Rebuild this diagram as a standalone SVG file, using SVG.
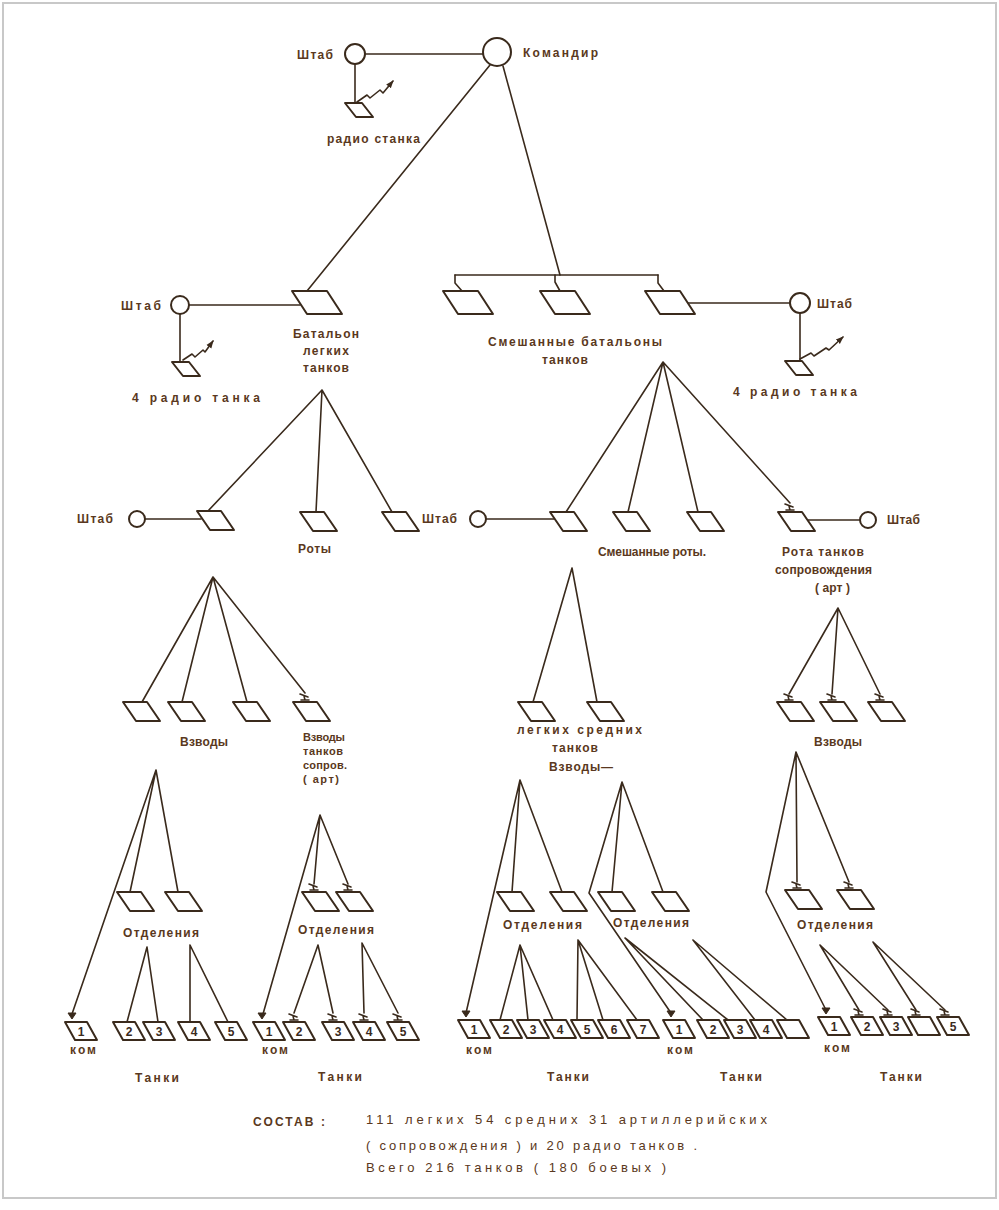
<svg xmlns="http://www.w3.org/2000/svg" width="999" height="1210" viewBox="0 0 999 1210">
<style>
.ln{fill:none;stroke:#3a2a1c;stroke-width:1.6;stroke-linecap:round;stroke-linejoin:round}
.nd{fill:#fff;stroke:#3a2a1c;stroke-width:2;stroke-linejoin:round}
.mk{fill:none;stroke:#3a2a1c;stroke-width:1.6;stroke-linecap:round}
.cm{fill:#3a2a1c;stroke:#3a2a1c;stroke-width:1}
text{font-family:"Liberation Sans","DejaVu Sans",sans-serif;font-weight:bold;font-size:12px;fill:#5a3820}
.m{text-anchor:middle}
.s{font-size:11px}
.b{font-weight:normal;font-size:13px}
.n{text-anchor:middle;font-size:12px;fill:#3a2a1c}
</style>
<defs>
<path id="pL" d="M0,0 H35 L50,23 H15 Z"/>
<path id="pM" d="M0,0 H24 L37,19 H13 Z"/>
<path id="pS" d="M0,0 H17 L28,14 H11 Z"/>
<path id="pT" d="M0,0 H22 L32,18 H10 Z"/>
<path id="mk" d="M-4,-1 H4 M0,-1 L-1,-5 M-5,-7 L3,-4"/>
<path id="cm" d="M-4,-8 H4 L0,-2 Z"/>
<marker id="ah" markerWidth="8" markerHeight="8" refX="7" refY="4" orient="auto" markerUnits="userSpaceOnUse"><path d="M0,1 L8,4 L0,7 Z" fill="#3a2a1c"/></marker>
</defs>
<rect x="0" y="0" width="999" height="1210" fill="#fff"/>
<rect x="3" y="3" width="993" height="1195" fill="none" stroke="#c8c8c8" stroke-width="2"/>

<g id="connectors" class="ln">
<path d="M365,54 H483"/>
<path d="M355,64 V103"/>
<path d="M490,65 L307,291"/>
<path d="M503,66 L560,275"/>
<path d="M455,275 H658"/>
<path d="M455,275 V283 L462,291"/>
<path d="M555,275 V282 L560,291"/>
<path d="M658,275 V283 L664,291"/>
<path d="M189,305 H300"/>
<path d="M180,314 V362"/>
<path d="M688,303 H790"/>
<path d="M800,313 V361"/>
<path d="M357,102 L367,95 L370,98 L380,90 L383,93 L393,81" marker-end="url(#ah)"/>
<path d="M183,360 L192,354 L195,357 L203,350 L205,352 L213,341" marker-end="url(#ah)"/>
<path d="M800,359 L811,353 L814,356 L826,348 L829,350 L843,337" marker-end="url(#ah)"/>
<path d="M322,390 L208,511 M322,390 L316,512 M322,390 L392,512"/>
<path d="M145,519 H201"/>
<path d="M663,362 L566,512 M663,362 L628,512 M663,362 L698,512 M663,362 L790,503"/>
<path d="M486,519 H554"/>
<path d="M808,520 H860"/>
<path d="M213,577 L142,702 M213,577 L182,702 M213,577 L247,702 M213,577 L305,693"/>
<path d="M572,568 L533,702 M572,568 L597,702"/>
<path d="M838,608 L789,694 M838,608 L832,694 M838,608 L880,694"/>
<path d="M156,770 L72,1014 M156,770 L130,892 M156,770 L178,892"/>
<path d="M147,947 L127,1022 M147,947 L158,1022 M190,945 L190,1022 M190,945 L228,1022"/>
<path d="M320,815 L263,1014 M320,815 L314,884 M320,815 L348,884"/>
<path d="M318,945 L294,1013 M318,945 L333,1013 M362,943 L364,1013 M362,943 L398,1013"/>
<path d="M520,780 L466,1013 M520,780 L512,892 M520,780 L562,892"/>
<path d="M622,782 L589,893 L671,1013 M622,782 L612,892 M622,782 L663,892"/>
<path d="M520,945 L500,1020 M520,945 L528,1020 M520,945 L553,1020"/>
<path d="M578,940 L577,1020 M578,940 L603,1020 M578,940 L637,1020"/>
<path d="M625,938 L703,1020 M625,938 L728,1020 M693,940 L755,1020 M693,940 L787,1020"/>
<path d="M796,752 L766,892 L826,1010 M796,752 L797,882 M796,752 L849,882"/>
<path d="M820,945 L859,1010 M820,945 L888,1010 M873,942 L916,1010 M873,942 L945,1010"/>
</g>

<g id="hq-shtab"><circle class="nd" cx="355" cy="54" r="10"/><text x="297" y="59" textLength="36">Штаб</text></g>
<g id="commander"><circle class="nd" cx="497" cy="52" r="14"/><text x="523" y="57" textLength="75">Командир</text></g>
<g id="hq-radio"><use href="#pS" class="nd" x="345" y="103"/><text x="327" y="143" textLength="93">радио станка</text></g>

<g id="bat-light"><use href="#pL" class="nd" x="292" y="291"/>
<text class="m" x="326" y="338" textLength="66">Батальон</text><text class="m" x="326" y="355" textLength="46">легких</text><text class="m" x="326" y="372" textLength="46">танков</text></g>
<g id="bat-light-shtab"><circle class="nd" cx="180" cy="305" r="9"/><text x="121" y="310" textLength="40">Штаб</text></g>
<g id="bat-light-radio"><use href="#pS" class="nd" x="172" y="362"/><text x="132" y="402" textLength="128">4 радио танка</text></g>

<g id="bat-mixed"><use href="#pL" class="nd" x="443" y="291"/><use href="#pL" class="nd" x="540" y="291"/><use href="#pL" class="nd" x="645" y="291"/>
<text x="488" y="346" textLength="174">Смешанные батальоны</text><text class="m" x="565" y="364" textLength="46">танков</text></g>
<g id="bat-mixed-shtab"><circle class="nd" cx="800" cy="303" r="10"/><text x="817" y="308" textLength="35">Штаб</text></g>
<g id="bat-mixed-radio"><use href="#pS" class="nd" x="785" y="361"/><text x="733" y="396" textLength="124">4 радио танка</text></g>

<g id="roty"><use href="#pM" class="nd" x="197" y="511"/><use href="#pM" class="nd" x="300" y="512"/><use href="#pM" class="nd" x="382" y="512"/><text x="298" y="553" textLength="33">Роты</text></g>
<g id="roty-shtab"><circle class="nd" cx="137" cy="519" r="8"/><text x="77" y="523" textLength="36">Штаб</text></g>

<g id="roty-mixed"><use href="#pM" class="nd" x="550" y="512"/><use href="#pM" class="nd" x="613" y="512"/><use href="#pM" class="nd" x="687" y="512"/><text x="598" y="556" textLength="108">Смешанные роты.</text></g>
<g id="roty-mixed-shtab"><circle class="nd" cx="478" cy="519" r="8"/><text x="422" y="523" textLength="35">Штаб</text></g>
<g id="rota-sopr"><use href="#pM" class="nd" x="778" y="512"/><use href="#mk" class="mk" x="790" y="511"/>
<text x="782" y="556" textLength="82">Рота танков</text><text x="775" y="574" textLength="97">сопровождения</text><text x="815" y="592" textLength="35">( арт )</text></g>
<g id="rota-sopr-shtab"><circle class="nd" cx="868" cy="520" r="8"/><text x="887" y="524" textLength="33">Штаб</text></g>

<g id="vzvody-light"><use href="#pM" class="nd" x="123" y="702"/><use href="#pM" class="nd" x="168" y="702"/><use href="#pM" class="nd" x="233" y="702"/><text x="180" y="746" textLength="48">Взводы</text></g>
<g id="vzvod-sopr-light"><use href="#pM" class="nd" x="293" y="702"/><use href="#mk" class="mk" x="305" y="701"/>
<text class="s" x="303" y="741" textLength="42">Взводы</text><text class="s" x="303" y="755" textLength="40">танков</text><text class="s" x="303" y="769" textLength="44">сопров.</text><text class="s" x="303" y="783" textLength="36">( арт)</text></g>
<g id="vzvody-mixed"><use href="#pM" class="nd" x="518" y="702"/><use href="#pM" class="nd" x="587" y="702"/>
<text x="517" y="734" textLength="125">легких средних</text><text x="552" y="752" textLength="46">танков</text><text x="549" y="771" textLength="64">Взводы—</text></g>
<g id="vzvody-sopr"><use href="#pM" class="nd" x="777" y="702"/><use href="#pM" class="nd" x="820" y="702"/><use href="#pM" class="nd" x="868" y="702"/>
<use href="#mk" class="mk" x="789" y="701"/><use href="#mk" class="mk" x="832" y="701"/><use href="#mk" class="mk" x="880" y="701"/><text x="814" y="746" textLength="48">Взводы</text></g>

<g id="otd-1"><use href="#pM" class="nd" x="117" y="892"/><use href="#pM" class="nd" x="165" y="892"/><text x="123" y="937" textLength="76">Отделения</text></g>
<g id="otd-2"><use href="#pM" class="nd" x="302" y="892"/><use href="#pM" class="nd" x="336" y="892"/><use href="#mk" class="mk" x="314" y="891"/><use href="#mk" class="mk" x="348" y="891"/><text x="298" y="934" textLength="76">Отделения</text></g>
<g id="otd-3"><use href="#pM" class="nd" x="497" y="892"/><use href="#pM" class="nd" x="550" y="892"/><text x="503" y="929" textLength="79">Отделения</text></g>
<g id="otd-4"><use href="#pM" class="nd" x="598" y="892"/><use href="#pM" class="nd" x="652" y="892"/><text x="613" y="927" textLength="76">Отделения</text></g>
<g id="otd-5"><use href="#pM" class="nd" x="785" y="890"/><use href="#pM" class="nd" x="837" y="890"/><use href="#mk" class="mk" x="797" y="889"/><use href="#mk" class="mk" x="849" y="889"/><text x="797" y="929" textLength="76">Отделения</text></g>

<g id="tanks-1">
<use href="#pT" class="nd" x="65" y="1022"/><use href="#cm" class="cm" x="72" y="1021"/><text class="n" x="81" y="1036">1</text>
<use href="#pT" class="nd" x="113" y="1022"/><text class="n" x="129" y="1036">2</text>
<use href="#pT" class="nd" x="143" y="1022"/><text class="n" x="159" y="1036">3</text>
<use href="#pT" class="nd" x="178" y="1022"/><text class="n" x="194" y="1036">4</text>
<use href="#pT" class="nd" x="215" y="1022"/><text class="n" x="231" y="1036">5</text>
<text x="70" y="1054" textLength="26">ком</text><text x="135" y="1082" textLength="44">Танки</text></g>

<g id="tanks-2">
<use href="#pT" class="nd" x="253" y="1022"/><use href="#cm" class="cm" x="262" y="1021"/><text class="n" x="269" y="1036">1</text>
<use href="#pT" class="nd" x="283" y="1022"/><use href="#mk" class="mk" x="294" y="1021"/><text class="n" x="299" y="1036">2</text>
<use href="#pT" class="nd" x="322" y="1022"/><use href="#mk" class="mk" x="333" y="1021"/><text class="n" x="338" y="1036">3</text>
<use href="#pT" class="nd" x="353" y="1022"/><use href="#mk" class="mk" x="364" y="1021"/><text class="n" x="369" y="1036">4</text>
<use href="#pT" class="nd" x="387" y="1022"/><use href="#mk" class="mk" x="398" y="1021"/><text class="n" x="403" y="1036">5</text>
<text x="262" y="1054" textLength="26">ком</text><text x="318" y="1081" textLength="44">Танки</text></g>

<g id="tanks-3">
<use href="#pT" class="nd" x="458" y="1020"/><use href="#cm" class="cm" x="466" y="1019"/><text class="n" x="474" y="1034">1</text>
<use href="#pT" class="nd" x="490" y="1020"/><text class="n" x="506" y="1034">2</text>
<use href="#pT" class="nd" x="517" y="1020"/><text class="n" x="533" y="1034">3</text>
<use href="#pT" class="nd" x="544" y="1020"/><text class="n" x="560" y="1034">4</text>
<use href="#pT" class="nd" x="571" y="1020"/><text class="n" x="587" y="1034">5</text>
<use href="#pT" class="nd" x="598" y="1020"/><text class="n" x="614" y="1034">6</text>
<use href="#pT" class="nd" x="627" y="1020"/><text class="n" x="643" y="1034">7</text>
<text x="466" y="1054" textLength="26">ком</text><text x="547" y="1081" textLength="42">Танки</text></g>

<g id="tanks-4">
<use href="#pT" class="nd" x="663" y="1020"/><use href="#cm" class="cm" x="671" y="1019"/><text class="n" x="679" y="1034">1</text>
<use href="#pT" class="nd" x="697" y="1020"/><text class="n" x="713" y="1034">2</text>
<use href="#pT" class="nd" x="724" y="1020"/><text class="n" x="740" y="1034">3</text>
<use href="#pT" class="nd" x="750" y="1020"/><text class="n" x="766" y="1034">4</text>
<use href="#pT" class="nd" x="777" y="1020"/>
<text x="667" y="1054" textLength="26">ком</text><text x="720" y="1081" textLength="42">Танки</text></g>

<g id="tanks-5">
<use href="#pT" class="nd" x="818" y="1017"/><use href="#cm" class="cm" x="826" y="1016"/><text class="n" x="834" y="1031">1</text>
<use href="#pT" class="nd" x="851" y="1017"/><use href="#mk" class="mk" x="859" y="1016"/><text class="n" x="867" y="1031">2</text>
<use href="#pT" class="nd" x="880" y="1017"/><use href="#mk" class="mk" x="888" y="1016"/><text class="n" x="896" y="1031">3</text>
<use href="#pT" class="nd" x="908" y="1017"/><use href="#mk" class="mk" x="916" y="1016"/>
<use href="#pT" class="nd" x="937" y="1017"/><use href="#mk" class="mk" x="945" y="1016"/><text class="n" x="953" y="1031">5</text>
<text x="824" y="1052" textLength="26">ком</text><text x="880" y="1081" textLength="42">Танки</text></g>

<g id="summary">
<text x="253" y="1126" textLength="72">СОСТАВ :</text>
<text class="b" x="366" y="1124" textLength="401">111 легких   54 средних   31 артиллерийских</text>
<text class="b" x="366" y="1150" textLength="331">( сопровождения )   и   20   радио   танков .</text>
<text class="b" x="366" y="1172" textLength="300">Всего    216  танков  ( 180 боевых )</text>
</g>
</svg>
